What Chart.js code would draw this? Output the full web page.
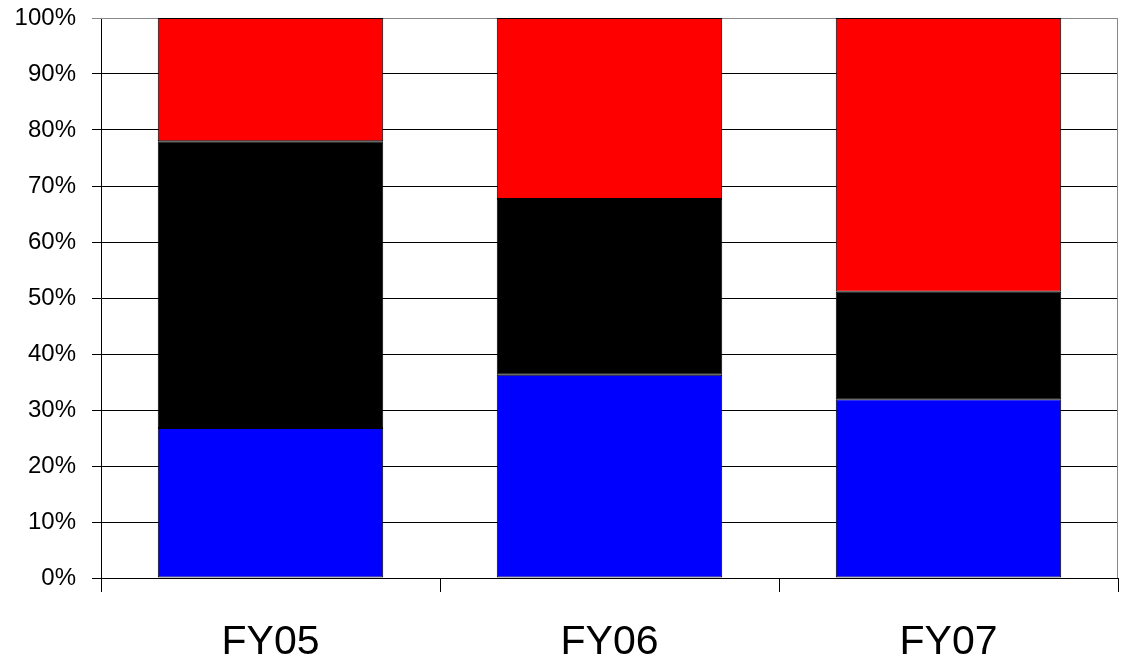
<!DOCTYPE html>
<html>
<head>
<meta charset="utf-8">
<script src="https://cdn.jsdelivr.net/npm/chart.js@4/dist/chart.umd.min.js"></script>
<style>
  html, body { margin: 0; padding: 0; background: #fff; }
  #wrap { width: 1124px; height: 665px; }
</style>
</head>
<body>
<div id="wrap"><canvas id="c"></canvas></div>
<script>
// stacked share by fiscal year (percent)
const YEARS = ['FY05', 'FY06', 'FY07'];
const BLUE = [26.8, 36.3, 31.9];
const BLACK = [51.2, 31.4, 19.2];
const RED = [22.0, 32.3, 48.9];
const Y_TICKS = [0, 10, 20, 30, 40, 50, 60, 70, 80, 90, 100];

// gray frame on the top/right of the plot area
const frame = {
  id: 'frame',
  beforeDatasetsDraw(chart) {
    const { ctx, chartArea: a } = chart;
    ctx.save();
    ctx.strokeStyle = '#888';
    ctx.lineWidth = 1;
    ctx.beginPath();
    ctx.moveTo(a.left, a.top + 0.5);
    ctx.lineTo(a.right - 0.5, a.top + 0.5);
    ctx.lineTo(a.right - 0.5, a.bottom);
    ctx.stroke();
    ctx.restore();
  },
};

const seg = (data, color) => ({
  data, backgroundColor: color, borderColor: '#000', borderWidth: 1, borderSkipped: false,
  barPercentage: 0.665, categoryPercentage: 1,
});

new Chart(document.getElementById('c'), {
  type: 'bar',
  data: { labels: YEARS, datasets: [seg(BLUE, '#0000ff'), seg(BLACK, '#000000'), seg(RED, '#ff0000')] },
  options: {
    responsive: true,
    maintainAspectRatio: false,
    animation: false,
    layout: { padding: { top: 18, right: 6, left: 0, bottom: 0 } },
    plugins: { legend: { display: false }, tooltip: { enabled: false } },
    scales: {
      x: {
        stacked: true,
        afterFit: (s) => { s.height = 87; },
        grid: { offset: true, drawOnChartArea: false, drawTicks: true, tickLength: 14, color: '#000', lineWidth: 1 },
        border: { color: '#000', width: 1 },
        ticks: { color: '#000', padding: 26, font: { family: '"Liberation Sans", Arial, sans-serif', size: 41 } },
      },
      y: {
        stacked: true,
        min: 0,
        max: 100,
        afterFit: (s) => { s.width = 101; s.paddingTop = 0; s.paddingBottom = 0; },
        afterBuildTicks: (s) => { s.ticks = Y_TICKS.map((v) => ({ value: v })); },
        grid: {
          color: (c) => (c.tick && c.tick.value === 100 ? '#888' : '#000'),
          lineWidth: 1, tickLength: 9,
        },
        border: { color: '#000', width: 1 },
        ticks: {
          color: '#000', padding: 16,
          font: { family: '"Liberation Sans", Arial, sans-serif', size: 24 },
          callback: (v) => v + '%',
        },
      },
    },
  },
  plugins: [frame],
});
</script>
</body>
</html>
